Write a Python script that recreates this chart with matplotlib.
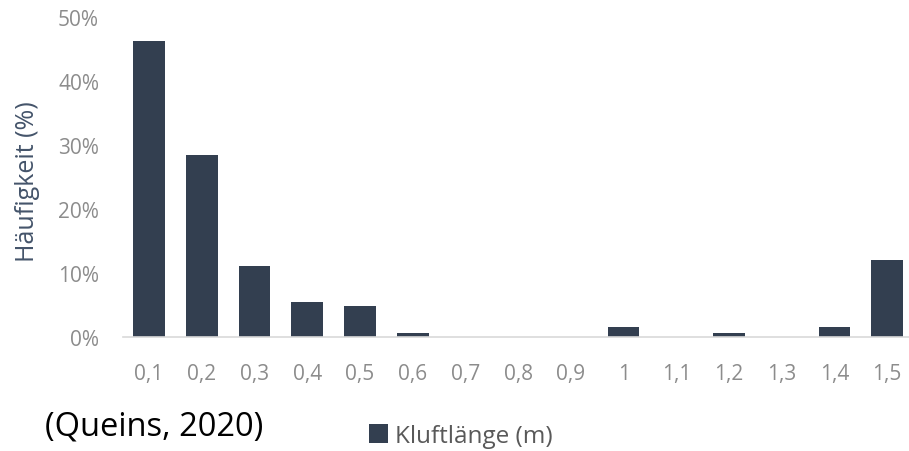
import matplotlib.pyplot as plt

# Kluftlängen-Klassen (m) und Häufigkeit in %
categories = ["0,1", "0,2", "0,3", "0,4", "0,5", "0,6", "0,7", "0,8",
              "0,9", "1", "1,1", "1,2", "1,3", "1,4", "1,5"]
frequency = [46.3, 28.4, 11.1, 5.5, 4.8, 0.7, 0, 0,
             0, 1.5, 0, 0.7, 0, 1.6, 12.0]
y_ticks = [0, 10, 20, 30, 40, 50]

bar_color = "#333f50"
tick_color = "#8c8c8c"

fig = plt.figure(figsize=(9.09, 4.52), dpi=100)
ax = fig.add_axes([0.135, 0.252, 0.87, 0.708])

x = range(len(categories))
bars = ax.bar(x, frequency, width=0.6, color=bar_color, label="Kluftlänge (m)")

ax.set_xlim(-0.5, len(categories) - 0.5)
ax.set_ylim(0, 50)
ax.set_xticks(list(x))
ax.set_xticklabels(categories)
ax.set_yticks(y_ticks)
ax.set_yticklabels([f"{t}%" for t in y_ticks])

for s in ["top", "right", "left"]:
    ax.spines[s].set_visible(False)
ax.spines["bottom"].set_color("#d9d9d9")
ax.spines["bottom"].set_linewidth(1.2)
ax.tick_params(axis="both", length=0, labelsize=15, labelcolor=tick_color)
ax.tick_params(axis="x", pad=19)
ax.tick_params(axis="y", pad=17)
for lbl in ax.get_xticklabels() + ax.get_yticklabels():
    lbl.set_family("Open Sans")

ax.set_ylabel("Häufigkeit (%)", fontsize=18, color="#44546a", family="Open Sans")
ax.yaxis.set_label_coords(-0.104, 0.49)

fig.legend(handles=[bars], loc="center", bbox_to_anchor=(0.507, 0.033),
           frameon=False, handlelength=0.8, handleheight=0.8, handletextpad=0.3,
           prop={"family": "Open Sans", "size": 17.5}, labelcolor="#595959")

fig.text(0.049, 0.056, "(Queins, 2020)", fontsize=23.5, family="Open Sans",
         color="black", va="center", ha="left")

fig.savefig("out.png", dpi=100)
